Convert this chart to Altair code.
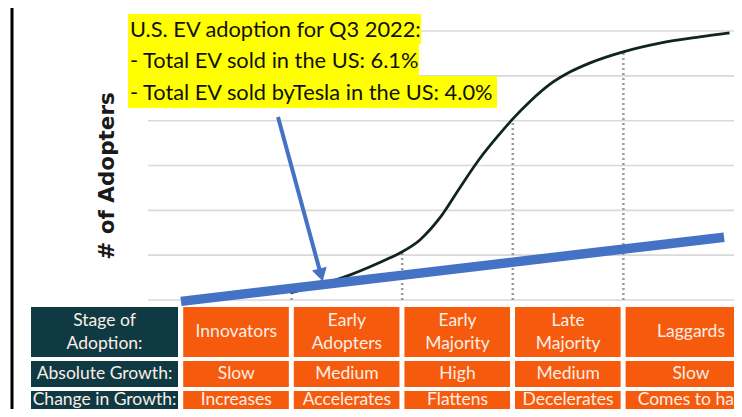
import altair as alt
import pandas as pd

# ---------------- data ----------------
stage_labels = [["Innovators"], ["Early", "Adopters"], ["Early", "Majority"], ["Late", "Majority"], ["Laggards"]]
absolute_growth = ["Slow", "Medium", "High", "Medium", "Slow"]
change_in_growth = ["Increases", "Accelerates", "Flattens", "Decelerates", "Comes to halt"]
row_headers = [["Stage of", "Adoption:"], ["Absolute Growth:"], ["Change in Growth:"]]

# S-curve: stage position (0..5) vs number of adopters (grid units)
curve_stage = [0.99, 1.26, 1.53, 1.71, 1.89, 1.98, 2.16, 2.34, 2.52, 2.70, 2.88,
               3.00, 3.16, 3.34, 3.52, 3.70, 3.99, 4.33, 4.69, 4.96]
curve_adopters = [0.16, 0.34, 0.56, 0.74, 0.94, 1.05, 1.34, 1.83, 2.50, 3.15, 3.70,
                  4.04, 4.44, 4.82, 5.09, 5.29, 5.53, 5.73, 5.87, 5.96]

# dotted stage boundaries
boundary_stage = [1, 2, 3, 4]
boundary_adopters = [0.07, 1.07, 4.04, 5.53]

# blue EV adoption line
ev_stage = [0.0, 4.91]
ev_adopters = [-0.03, 1.40]

grid_levels = [0, 1, 2, 3, 4, 5, 6]

annotation_lines = [
    "U.S. EV adoption for Q3 2022:",
    "- Total EV sold in the US: 6.1%",
    "- Total EV sold byTesla in the US: 4.0%",
]

# ---------------- layout (pixel calibration) ----------------
W, H = 726, 401
X0, UX = 181.0, 110.6     # page px of stage 0, px per stage
Y0, UY = 300.0, 44.83     # page px of adopters 0, px per grid unit
def u(px): return (px - X0) / UX
def v(py): return (Y0 - py) / UY

xdom = [u(8), u(8 + W)]
ydom = [v(8 + H), v(8)]
X = lambda f: alt.X(f, type="quantitative", scale=alt.Scale(domain=xdom, nice=False, zero=False), axis=None)
Y = lambda f: alt.Y(f, type="quantitative", scale=alt.Scale(domain=ydom, nice=False, zero=False), axis=None)

BLUE = "#4472c4"
ORANGE = "#f65a0c"
DARK = "#0f3a43"

# gridlines
grid_df = pd.DataFrame({"y": grid_levels, "x": u(148), "x2": u(760)})
grid = alt.Chart(grid_df).mark_rule(color="#d9d9d9", strokeWidth=1.6, clip=True).encode(
    x=X("x"), x2="x2", y=Y("y"))

# left border line
border = alt.Chart(pd.DataFrame({"x": [u(12)], "y": [v(0)], "y2": [v(420)]})).mark_rule(
    color="black", strokeWidth=3, clip=True).encode(x=X("x"), y=Y("y"), y2="y2")

# dotted boundaries
bnd_df = pd.DataFrame({"x": boundary_stage, "y": 0.0, "y2": boundary_adopters})
dotted = alt.Chart(bnd_df).mark_rule(color="#9a9a9a", strokeWidth=2.5, strokeDash=[2, 3]).encode(
    x=X("x"), y=Y("y"), y2="y2")

# S-curve
curve_df = pd.DataFrame({"x": curve_stage, "y": curve_adopters})
curve = alt.Chart(curve_df).mark_line(color="#102424", strokeWidth=2.8, interpolate="monotone").encode(
    x=X("x"), y=Y("y"))

# blue line
ev_df = pd.DataFrame({"x": ev_stage, "y": ev_adopters})
ev = alt.Chart(ev_df).mark_line(color=BLUE, strokeWidth=9.5, strokeCap="butt").encode(
    x=X("x"), y=Y("y"))

# arrow
arrow_df = pd.DataFrame({"x": [u(278)], "y": [v(117)], "x2": [u(321)], "y2": [v(275)]})
arrow_line = alt.Chart(arrow_df).mark_rule(color=BLUE, strokeWidth=4).encode(
    x=X("x"), y=Y("y"), x2="x2", y2="y2")
head_df = pd.DataFrame({"x": [u(321)], "y": [v(275)]})
arrow_head = alt.Chart(head_df).mark_point(
    shape="triangle-up", filled=True, color=BLUE, opacity=1, size=230, angle=165).encode(
    x=X("x"), y=Y("y"))

# yellow annotation
line_tops = [14, 44, 76]
line_bottoms = [44, 76, 108]
line_rights = [421, 419, 497]
ann_df = pd.DataFrame({
    "text": annotation_lines,
    "x": u(128), "x2": [u(r) for r in line_rights],
    "y": [v(t) for t in line_tops], "y2": [v(b) for b in line_bottoms],
    "ty": [v((t + b) / 2 + 1) for t, b in zip(line_tops, line_bottoms)],
    "tx": u(130),
})
ann_bg = alt.Chart(ann_df).mark_rect(color="#ffff00").encode(x=X("x"), x2="x2", y=Y("y"), y2="y2")
ann_txt = alt.Chart(ann_df).mark_text(align="left", baseline="middle", font="Lato", fontSize=21.8,
                                      color="#111111").encode(x=X("tx"), y=Y("ty"), text="text")

# y-axis title
ytitle = alt.Chart(pd.DataFrame({"x": [u(108)], "y": [v(176)], "t": ["# of Adopters"]})).mark_text(
    angle=270, font="DejaVu Sans", fontWeight="bold", fontSize=21.5, color="#1a1a1a",
    baseline="middle", align="center").encode(x=X("x"), y=Y("y"), text="t")

# table
row_top = [307, 361, 391]
row_bot = [357, 387, 423]
text_mid = [332, 374, 400]
LINE_H = 23
rows = [stage_labels, absolute_growth, change_in_growth]
cells, cell_lines = [], []
for r, vals in enumerate(rows):
    for i, lab in enumerate(vals):
        right = i + 0.975 if i < 4 else u(760)
        cx = i + 0.5 if i < 4 else u(691)
        cy = text_mid[r]
        cells.append({"x": i + 0.02, "x2": right, "y": v(row_top[r]), "y2": v(row_bot[r])})
        parts = lab if isinstance(lab, list) else [lab]
        n = len(parts)
        for k, p in enumerate(parts):
            cell_lines.append({"tx": cx, "ty": v(cy + (k - (n - 1) / 2) * LINE_H), "text": p})
cell_df = pd.DataFrame(cells)
cell_txt_df = pd.DataFrame(cell_lines)

heads, head_lines = [], []
for r, parts in enumerate(row_headers):
    cy = text_mid[r]
    heads.append({"x": u(31), "x2": u(178), "y": v(row_top[r]), "y2": v(row_bot[r])})
    n = len(parts)
    for k, p in enumerate(parts):
        head_lines.append({"tx": u(104.5), "ty": v(cy + (k - (n - 1) / 2) * LINE_H), "text": p})
head_df2 = pd.DataFrame(heads)
head_txt_df = pd.DataFrame(head_lines)

cell_bg = alt.Chart(cell_df).mark_rect(color=ORANGE, clip=True).encode(x=X("x"), x2="x2", y=Y("y"), y2="y2")
head_bg = alt.Chart(head_df2).mark_rect(color=DARK, clip=True).encode(x=X("x"), x2="x2", y=Y("y"), y2="y2")
txt_style = dict(align="center", baseline="middle", font="Lato", fontSize=17.5, color="#fbeee6", clip=True)
cell_txt = alt.Chart(cell_txt_df).mark_text(**txt_style).encode(x=X("tx"), y=Y("ty"), text="text")
head_txt = alt.Chart(head_txt_df).mark_text(**txt_style).encode(x=X("tx"), y=Y("ty"), text="text")

chart = alt.layer(
    grid, border, dotted, curve, ev, arrow_line, arrow_head, ann_bg, ann_txt, ytitle,
    cell_bg, head_bg, cell_txt, head_txt
).properties(
    width=W, height=H, padding=0, autosize=alt.AutoSizeParams(type="none"), background="white"
).configure_view(stroke=None)

chart.save("out.html", embed_options={"renderer": "svg", "actions": False})
